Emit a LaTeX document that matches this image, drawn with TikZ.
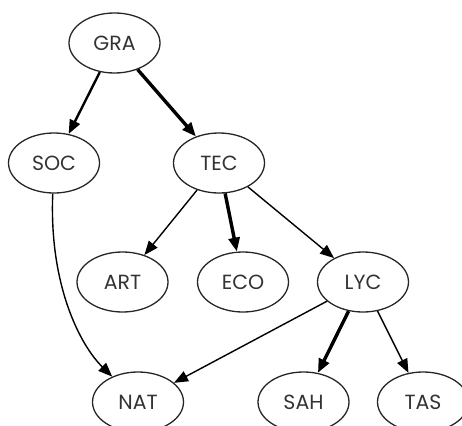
\documentclass[tikz,border=0pt]{standalone}
\usepackage{fontspec}
\setmainfont{Poppins}
\usetikzlibrary{shapes.geometric,arrows.meta}
\begin{document}
\begin{tikzpicture}[x=1pt,y=-1pt,
  nd/.style={ellipse,draw=black!85,line width=1.3pt,minimum width=91pt,minimum height=60pt,inner sep=0pt,font=\fontsize{20.5}{22}\selectfont,text=black!80},
  edge/.style={draw=black,line width=1.4pt,-{Triangle[length=14pt,width=11pt]}},
  thick2/.style={edge,line width=2.4pt},
  thick3/.style={edge,line width=3.4pt}]
\useasboundingbox (0,0) rectangle (462,425);
\node[nd] (GRA) at (114.5,43) {GRA};
\node[nd] (SOC) at (54,163) {SOC};
\node[nd] (TEC) at (219,163) {TEC};
\node[nd] (ART) at (122.5,282) {ART};
\node[nd] (ECO) at (243,282) {ECO};
\node[nd] (LYC) at (363,282) {LYC};
\node[nd] (NAT) at (138,402) {NAT};
\node[nd] (SAH) at (303.5,402) {SAH};
\node[nd] (TAS) at (423,402) {TAS};
\draw[thick2] (GRA) -- (SOC);
\draw[thick3] (GRA) -- (TEC);
\draw[edge] (TEC) -- (ART);
\draw[thick3] (TEC) -- (ECO);
\draw[edge] (TEC) -- (LYC);
\draw[edge] (SOC) .. controls (49,285) and (80,345) .. (NAT);
\draw[edge] (LYC) -- (NAT);
\draw[thick3] (LYC) -- (SAH);
\draw[edge] (LYC) -- (TAS);
\end{tikzpicture}
\end{document}
